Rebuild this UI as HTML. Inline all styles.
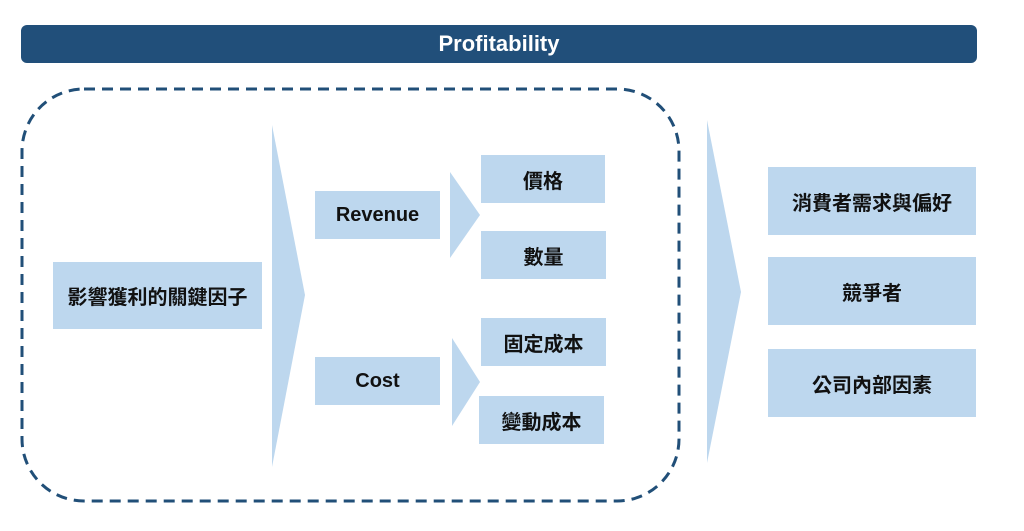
<!DOCTYPE html>
<html><head><meta charset="utf-8"><style>
body{margin:0;width:1024px;height:531px;background:#fff;position:relative;overflow:hidden;font-family:"Liberation Sans","Noto Sans CJK TC",sans-serif;}
.b{position:absolute;background:#bdd7ee;display:flex;align-items:center;justify-content:center;font-size:20px;font-weight:bold;color:#111;}
</style></head><body>
<div style="position:absolute;left:21px;top:25px;width:956px;height:38px;background:#214f7a;border-radius:6px;color:#fff;font-size:22px;font-weight:bold;display:flex;align-items:center;justify-content:center;">Profitability</div>
<svg width="1024" height="531" style="position:absolute;left:0;top:0">
<rect x="22" y="89" width="657" height="412" rx="62" fill="none" stroke="#214f78" stroke-width="3" stroke-dasharray="11 7"/>
<polygon points="272,125 305,295 272,467" fill="#bdd7ee"/>
<polygon points="450,172 480,215 450,258" fill="#bdd7ee"/>
<polygon points="452,338 480,382 452,426" fill="#bdd7ee"/>
<polygon points="707,120 741,292 707,463" fill="#bdd7ee"/>
</svg>
<div class="b" style="left:53px;top:262px;width:209px;height:67px">影響獲利的關鍵因子</div>
<div class="b" style="left:315px;top:191px;width:125px;height:48px">Revenue</div>
<div class="b" style="left:315px;top:357px;width:125px;height:48px">Cost</div>
<div class="b" style="left:481px;top:155px;width:124px;height:48px">價格</div>
<div class="b" style="left:481px;top:231px;width:125px;height:48px">數量</div>
<div class="b" style="left:481px;top:318px;width:125px;height:48px">固定成本</div>
<div class="b" style="left:479px;top:396px;width:125px;height:48px">變動成本</div>
<div class="b" style="left:768px;top:167px;width:208px;height:68px">消費者需求與偏好</div>
<div class="b" style="left:768px;top:257px;width:208px;height:68px">競爭者</div>
<div class="b" style="left:768px;top:349px;width:208px;height:68px">公司內部因素</div>
</body></html>
